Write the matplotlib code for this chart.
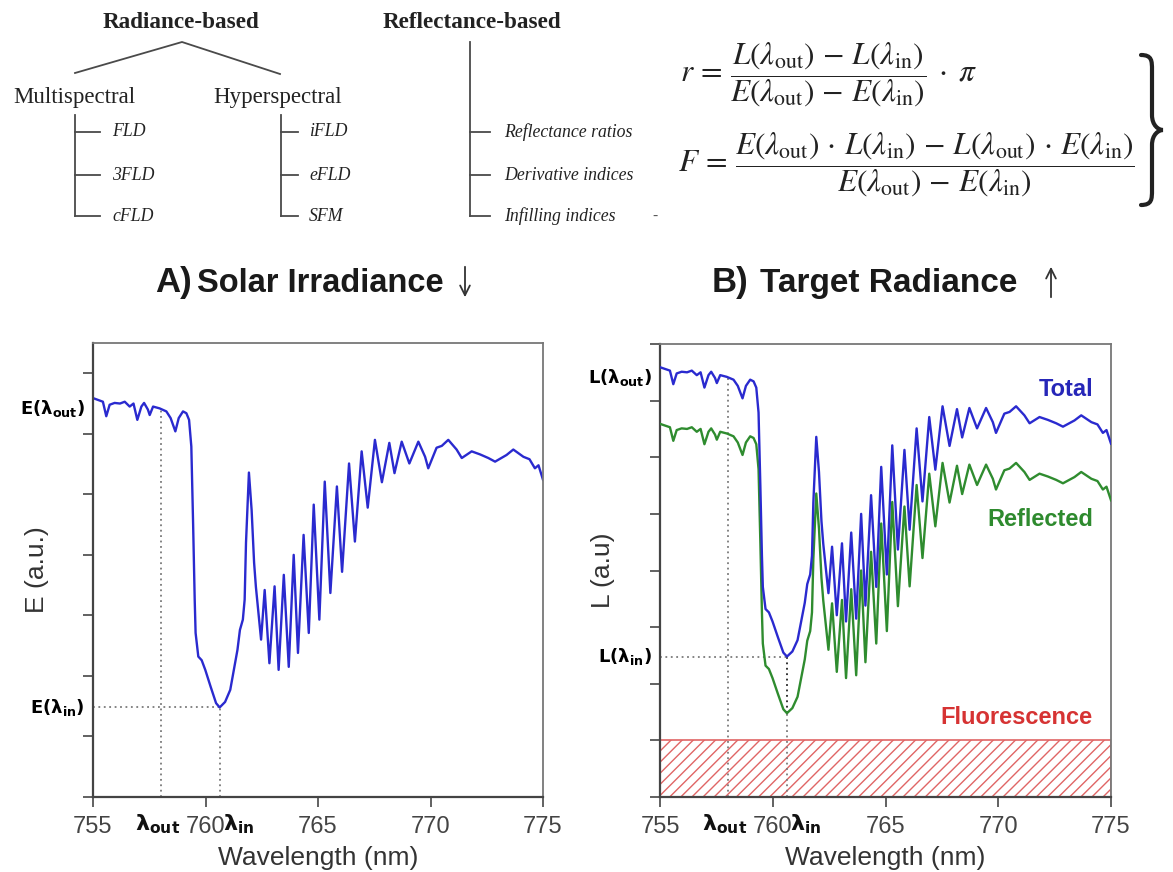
import numpy as np
import matplotlib
matplotlib.use("Agg")
import matplotlib.pyplot as plt
from matplotlib.path import Path
from matplotlib.patches import PathPatch
from matplotlib.transforms import blended_transform_factory

# O2-A band: solar irradiance sampled at peaks / troughs (nm, a.u.)
wavelength = [
    755.00, 755.22, 755.44, 755.59, 755.74, 755.96, 756.20, 756.41, 756.63, 756.80,
    756.97, 757.15, 757.27, 757.44, 757.52, 757.67, 757.96, 758.26, 758.45, 758.66,
    758.81, 759.00, 759.15, 759.27, 759.37, 759.45, 759.52, 759.56, 759.68, 759.83,
    759.99, 760.23, 760.47, 760.63, 760.87, 761.10, 761.26, 761.42, 761.53, 761.66,
    761.74, 761.80, 761.93, 762.05, 762.16, 762.24, 762.47, 762.63, 762.84, 763.07,
    763.25, 763.48, 763.70, 763.92, 764.11, 764.36, 764.59, 764.81, 765.06, 765.30,
    765.55, 765.84, 766.07, 766.38, 766.64, 766.94, 767.21, 767.53, 767.84, 768.17,
    768.40, 768.72, 769.06, 769.46, 769.76, 769.90, 770.27, 770.50, 770.79, 771.16,
    771.39, 771.83, 772.20, 772.57, 772.87, 773.38, 773.68, 774.13, 774.40, 774.64,
    774.80, 775.00,
]
irradiance = [
    6.59, 6.56, 6.53, 6.29, 6.48, 6.51, 6.50, 6.53, 6.45, 6.50,
    6.23, 6.45, 6.51, 6.40, 6.31, 6.45, 6.42, 6.37, 6.26, 6.04,
    6.26, 6.37, 6.34, 6.23, 5.79, 4.50, 3.26, 2.71, 2.32, 2.26,
    2.10, 1.82, 1.55, 1.48, 1.57, 1.77, 2.10, 2.43, 2.76, 2.93,
    3.26, 4.20, 5.36, 4.74, 3.87, 3.47, 2.60, 3.42, 2.21, 3.48,
    2.10, 3.67, 2.15, 4.00, 2.38, 4.33, 2.71, 4.83, 2.93, 5.21,
    3.37, 5.13, 3.72, 5.51, 4.22, 5.71, 4.78, 5.90, 5.20, 5.85,
    5.35, 5.87, 5.51, 5.87, 5.62, 5.43, 5.77, 5.80, 5.90, 5.74,
    5.60, 5.71, 5.66, 5.60, 5.54, 5.65, 5.74, 5.62, 5.58, 5.43,
    5.48, 5.24,
]
fluorescence = 1.0          # constant fluorescence contribution (a.u.)
lambda_out = 758.0          # shoulder outside the absorption band
lambda_in = 760.63          # bottom of the O2-A absorption band
x_ticks = [755, 760, 765, 770, 775]
e_ticks = [0, 1, 2, 3, 4, 5, 6, 7]
l_ticks = [0, 1, 2, 3, 4, 5, 6, 7, 8]

wl = np.array(wavelength)
E = np.array(irradiance)
reflected = E.copy()                 # reflected radiance of the target
total = reflected + fluorescence     # at-sensor radiance = reflected + fluorescence

e_out = np.interp(lambda_out, wl, E)
e_in = np.interp(lambda_in, wl, E)
l_out = np.interp(lambda_out, wl, total)
l_in = np.interp(lambda_in, wl, total)
r_in = np.interp(lambda_in, wl, reflected)

plt.rcParams["hatch.linewidth"] = 1.0

W, H = 1173, 872
fig = plt.figure(figsize=(W / 100, H / 100), dpi=100)

# ---------- overlay in pixel coordinates for the diagram and formulas ----------
ov = fig.add_axes([0, 0, 1, 1])
ov.set_xlim(0, W)
ov.set_ylim(H, 0)
ov.axis("off")

serif = "Liberation Serif"
tree_col = "#222222"
line_kw = dict(color="#4a4a4a", lw=1.3)

ov.text(181, 22, "Radiance-based", family=serif, weight="bold", fontsize=16.7,
        ha="center", va="center", color=tree_col)
ov.text(472, 22, "Reflectance-based", family=serif, weight="bold", fontsize=16.7,
        ha="center", va="center", color=tree_col)
ov.plot([75, 182, 280], [73, 42, 74], **line_kw)
ov.text(74, 97, "Multispectral", family=serif, fontsize=16.5, ha="center", va="center",
        color=tree_col)
ov.text(278, 97, "Hyperspectral", family=serif, fontsize=16.5, ha="center", va="center",
        color=tree_col)

branch_y = [132, 175, 216]
for x0, x1, xt, labels in [(75, 100, 112, ["FLD", "3FLD", "cFLD"]),
                            (281, 298, 309, ["iFLD", "eFLD", "SFM"]),
                            (470, 490, 504, ["Reflectance ratios", "Derivative indices",
                                             "Infilling indices"])]:
    top = 42 if x0 == 470 else 115
    ov.plot([x0, x0], [top, branch_y[-1]], **line_kw)
    for yb, lab in zip(branch_y, labels):
        ov.plot([x0, x1], [yb, yb], **line_kw)
        ov.text(xt, yb, lab, family=serif, style="italic", fontsize=12.8,
                ha="left", va="center", color=tree_col)
ov.text(655, 216, "-", family=serif, fontsize=11, ha="center", va="center", color="#555555")

eq_kw = dict(fontsize=22.5, math_fontfamily="stix", ha="left", va="center", color="#222222")
ov.text(680, 75, r"$r\,=\,\dfrac{L(\lambda_{\rm out})\,-\,L(\lambda_{\rm in})}"
                 r"{E(\lambda_{\rm out})\,-\,E(\lambda_{\rm in})}\;\cdot\;\pi$", **eq_kw)
ov.text(678, 165, r"$F\,=\,\dfrac{E(\lambda_{\rm out})\,\cdot\,L(\lambda_{\rm in})\,-\,"
                  r"L(\lambda_{\rm out})\,\cdot\,E(\lambda_{\rm in})}"
                  r"{E(\lambda_{\rm out})\,-\,E(\lambda_{\rm in})}$", **eq_kw)


def brace(ax, x0, yt, yb, w):
    h = yb - yt
    ym = (yt + yb) / 2
    xm = x0 + w * 0.5
    verts = [(x0, yt), (xm, yt), (xm, yt + h * 0.04), (xm, yt + h * 0.1),
             (xm, ym - h * 0.1),
             (xm, ym - h * 0.03), (x0 + w * 0.8, ym), (x0 + w, ym),
             (x0 + w * 0.8, ym), (xm, ym + h * 0.03), (xm, ym + h * 0.1),
             (xm, yb - h * 0.1),
             (xm, yb - h * 0.04), (xm, yb), (x0, yb)]
    codes = [Path.MOVETO, Path.CURVE4, Path.CURVE4, Path.CURVE4,
             Path.LINETO,
             Path.CURVE4, Path.CURVE4, Path.CURVE4,
             Path.CURVE4, Path.CURVE4, Path.CURVE4,
             Path.LINETO,
             Path.CURVE4, Path.CURVE4, Path.CURVE4]
    ax.add_patch(PathPatch(Path(verts, codes), fill=False, lw=3.0, color="#222222",
                           capstyle="round"))


brace(ov, 1141, 55, 205, 22)

# panel titles
title_kw = dict(family="Liberation Sans", weight="bold", color="#1a1a1a", va="center")
ov.text(155, 282, "A)", fontsize=25, ha="left", **title_kw)
ov.text(197, 283, "Solar Irradiance", fontsize=23.5, ha="left", **title_kw)
ov.text(712, 282, "B)", fontsize=25, ha="left", **title_kw)
ov.text(760, 283, "Target Radiance", fontsize=24, ha="left", **title_kw)
arrow_kw = dict(arrowstyle="->,head_length=0.7,head_width=0.35", lw=1.3, color="#333333")
ov.annotate("", xy=(465, 300), xytext=(465, 264), arrowprops=arrow_kw)
ov.annotate("", xy=(1051, 264), xytext=(1051, 300), arrowprops=arrow_kw)

# ---------- spectra panels ----------
def px_axes(x0, x1, y0, y1):
    return fig.add_axes([x0 / W, (H - y1) / H, (x1 - x0) / W, (y1 - y0) / H])


axA = px_axes(93, 543, 343, 797)
axB = px_axes(660, 1111, 344, 797)

blue = "#2a2acf"
green = "#2f8c2f"
red = "#d63333"
dot_kw = dict(color="#7a7a7a", lw=1.3, ls=(0, (1, 2)))

for ax, yticks, ymax in [(axA, e_ticks, 7.5), (axB, l_ticks, 8.0)]:
    ax.set_xlim(755, 775)
    ax.set_ylim(0, ymax)
    ax.set_xticks(x_ticks)
    ax.set_yticks(yticks)
    ax.tick_params(axis="both", direction="out", length=7, width=1.3, colors="#555555",
                   labelcolor="#444444", labelsize=17, pad=7)
    ax.tick_params(axis="y", labelleft=False)
    for lab in ax.get_xticklabels():
        lab.set_family("Liberation Sans")
    for side in ["top", "right"]:
        ax.spines[side].set_color("#777777")
        ax.spines[side].set_linewidth(1.3)
    for side in ["left", "bottom"]:
        ax.spines[side].set_color("#444444")
        ax.spines[side].set_linewidth(1.6)
    ax.set_xlabel("Wavelength (nm)", family="Liberation Sans", fontsize=19, color="#333333")
    ax.xaxis.set_label_coords(0.5, -0.108)
    trans = blended_transform_factory(ax.transData, ax.transAxes)
    ax.text(lambda_out - 0.15, -0.06, r"$\mathbf{\lambda_{out}}$", transform=trans,
            ha="center", va="center", fontsize=16, color="#111111")
    ax.text(lambda_in + 0.15, -0.06, r"$\mathbf{\lambda_{in}}$", transform=trans,
            ha="left", va="center", fontsize=16, color="#111111")

# A) solar irradiance
axA.plot([lambda_out, lambda_out], [0, e_out], **dot_kw)
axA.plot([lambda_in, lambda_in], [0, e_in], **dot_kw)
axA.plot([755, lambda_in], [e_in, e_in], **dot_kw)
axA.plot(wl, E, color=blue, lw=1.7)
axA.set_ylabel("E (a.u.)", family="Liberation Sans", fontsize=19, color="#333333")
axA.yaxis.set_label_coords(-0.097, 0.5)
tA = blended_transform_factory(axA.transAxes, axA.transData)
axA.text(-0.018, e_out, r"$\mathbf{E(\lambda_{out})}$", transform=tA, ha="right",
         va="center", fontsize=13)
axA.text(-0.018, e_in, r"$\mathbf{E(\lambda_{in})}$", transform=tA, ha="right",
         va="center", fontsize=13)

# B) target radiance
axB.fill_between(wl, 0, fluorescence, facecolor="white", edgecolor="#e06565",
                 hatch="///", lw=1.2, zorder=1)
axB.plot([lambda_out, lambda_out], [0, l_out], zorder=2, **dot_kw)
axB.plot([lambda_in, lambda_in], [0, r_in], zorder=2, **dot_kw)
axB.plot([lambda_in, lambda_in], [r_in, l_in], color="#222222", lw=1.3,
         ls=(0, (1, 2)), zorder=2)
axB.plot([755, lambda_in], [l_in, l_in], zorder=2, **dot_kw)
axB.plot(wl, reflected, color=green, lw=1.7, zorder=3)
axB.plot(wl, total, color=blue, lw=1.7, zorder=4)
axB.set_ylabel("L (a.u)", family="Liberation Sans", fontsize=19, color="#333333")
axB.yaxis.set_label_coords(-0.10, 0.5)
tB = blended_transform_factory(axB.transAxes, axB.transData)
axB.text(-0.018, l_out, r"$\mathbf{L(\lambda_{out})}$", transform=tB, ha="right",
         va="center", fontsize=13)
axB.text(-0.018, l_in, r"$\mathbf{L(\lambda_{in})}$", transform=tB, ha="right",
         va="center", fontsize=13)
lab_kw = dict(family="Liberation Sans", weight="bold", fontsize=17, ha="right", va="center")
axB.text(0.96, 7.2, "Total", color="#2626b8", transform=tB, **lab_kw)
axB.text(0.96, 4.9, "Reflected", color="#2e8a2e", transform=tB, **lab_kw)
axB.text(0.96, 1.4, "Fluorescence", color=red, transform=tB, **lab_kw)

fig.savefig("out.png", dpi=100)
